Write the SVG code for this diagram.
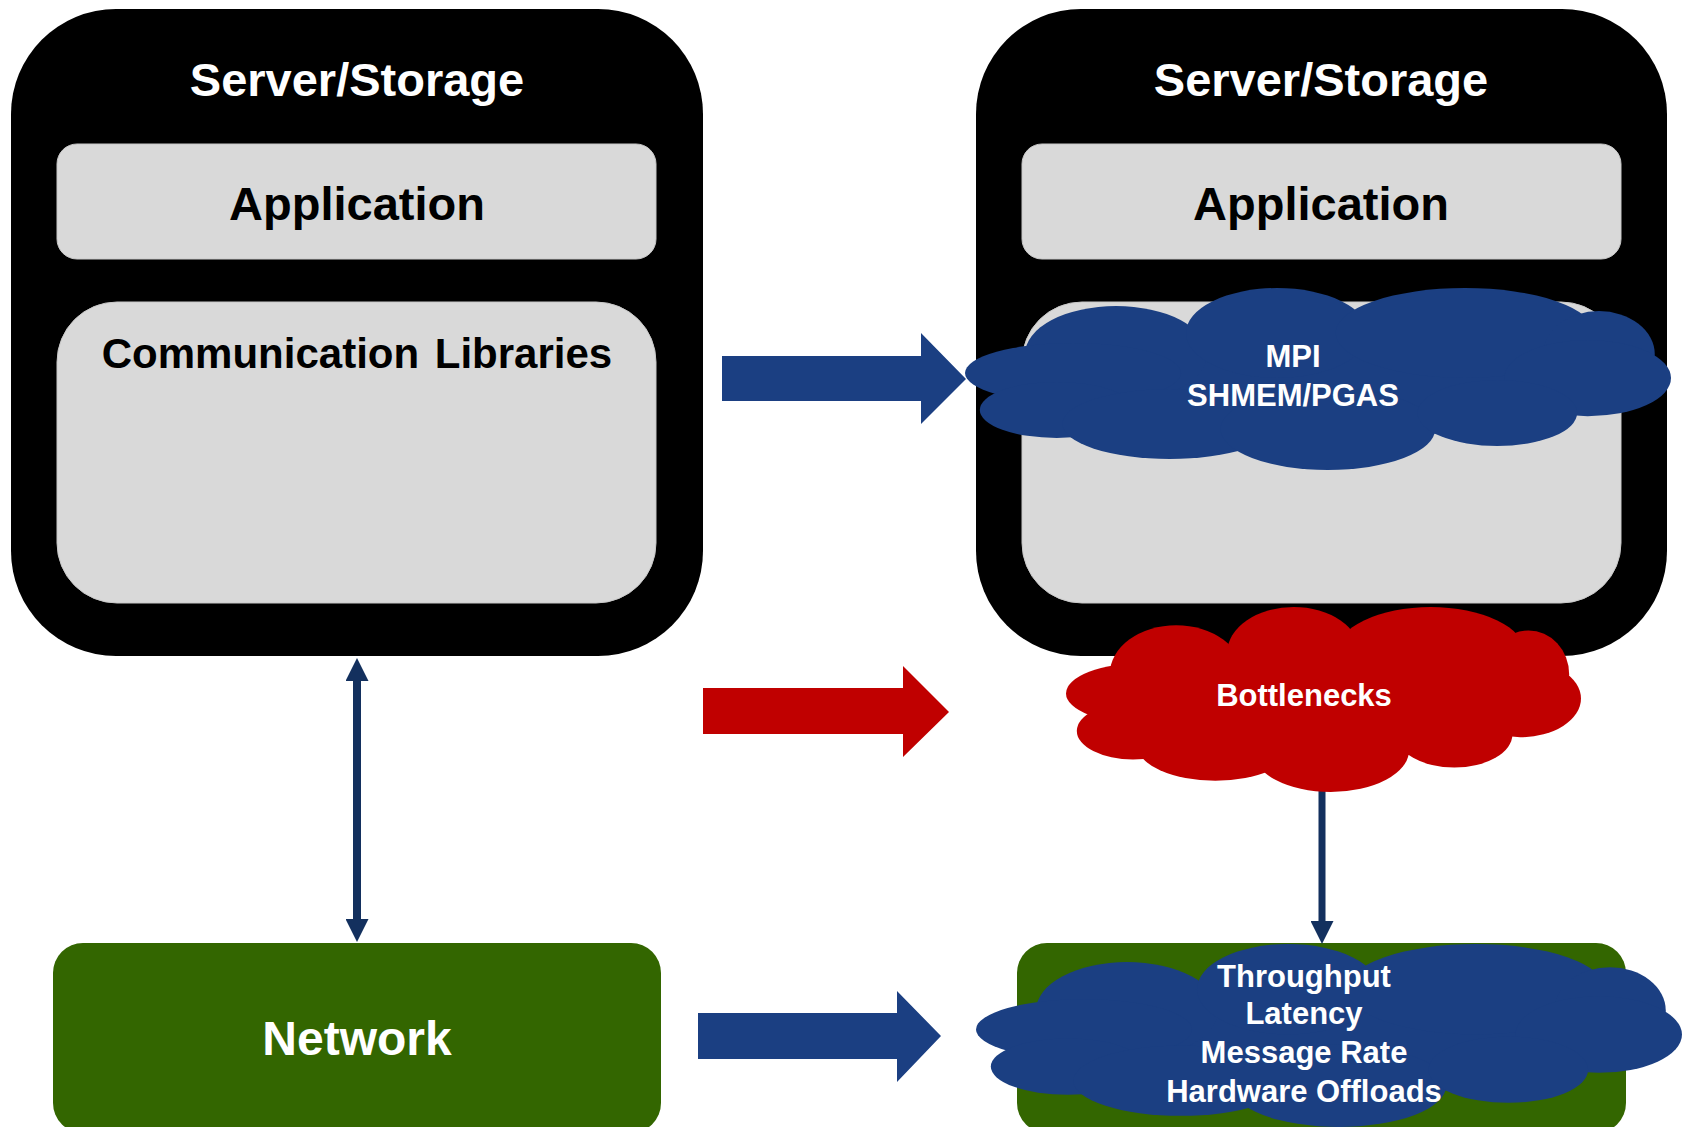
<svg xmlns="http://www.w3.org/2000/svg" xmlns:xlink="http://www.w3.org/1999/xlink" width="1683" height="1127" viewBox="0 0 1683 1127">
<style>
  text { font-family: "Liberation Sans", Arial, sans-serif; font-weight: bold; text-anchor: middle; }
  .title { font-size: 47px; fill: #FFFFFF; }
  .app { font-size: 47px; fill: #000000; }
  .lib { font-size: 42px; fill: #000000; word-spacing: 4px; }
  .cloudtxt { font-size: 31px; fill: #FFFFFF; }
  .net { font-size: 48px; fill: #FFFFFF; }
  .server { fill: #000000; }
  .grey { fill: #D9D9D9; stroke: #C8C8C8; stroke-width: 1; }
  .green { fill: #336600; }
  .blockblue { fill: #1B3F82; }
  .blockred { fill: #C00000; }
  .conn { stroke: #13305E; fill: none; }
</style>
<defs>
  <symbol id="cloud" viewBox="0 0 100 100" preserveAspectRatio="none">
    <ellipse cx="48.9" cy="50.5" rx="39.7" ry="33"/>
    <ellipse cx="21.4" cy="36.3" rx="12.9" ry="26.4"/>
    <ellipse cx="44.2" cy="24.7" rx="12.9" ry="24.7"/>
    <ellipse cx="70.8" cy="24.7" rx="18.3" ry="24.7"/>
    <ellipse cx="89.8" cy="36.3" rx="7.9" ry="23.6"/>
    <ellipse cx="88.2" cy="49.5" rx="11.8" ry="20.9"/>
    <ellipse cx="15.3" cy="46.7" rx="15.3" ry="16.5"/>
    <ellipse cx="13.0" cy="67.0" rx="10.9" ry="15.4"/>
    <ellipse cx="29.0" cy="74.7" rx="15.2" ry="19.2"/>
    <ellipse cx="51.4" cy="77.5" rx="15.2" ry="22.5"/>
    <ellipse cx="75.4" cy="68.7" rx="11.3" ry="18.1"/>
  </symbol>
  <marker id="head" viewBox="0 0 23 23" refX="11" refY="11.5" markerWidth="23" markerHeight="23" markerUnits="userSpaceOnUse" orient="auto-start-reverse">
    <path d="M0,0 L23,11.5 L0,23 Z" fill="#13305E"/>
  </marker>
</defs>

<rect width="1683" height="1127" fill="#FFFFFF"/>

<g id="server-left">
  <rect class="server" x="11" y="9" width="692" height="647" rx="105" ry="105"/>
  <text class="title" x="357" y="96">Server/Storage</text>
</g>
<g id="application-left">
  <rect class="grey" x="57" y="144" width="599" height="115" rx="20" ry="20"/>
  <text class="app" x="357" y="220">Application</text>
</g>
<g id="comm-libraries">
  <rect class="grey" x="57" y="302" width="599" height="301" rx="60" ry="60"/>
  <text class="lib" x="357" y="368">Communication Libraries</text>
</g>

<g id="server-right">
  <rect class="server" x="976" y="9" width="691" height="647" rx="105" ry="105"/>
  <text class="title" x="1321" y="96">Server/Storage</text>
</g>
<g id="application-right">
  <rect class="grey" x="1022" y="144" width="599" height="115" rx="20" ry="20"/>
  <text class="app" x="1321" y="220">Application</text>
</g>
<g id="libraries-right">
  <rect class="grey" x="1022" y="302" width="599" height="301" rx="60" ry="60"/>
</g>

<g id="network-left">
  <rect class="green" x="53" y="943" width="608" height="190" rx="30" ry="30"/>
  <text class="net" x="357" y="1055">Network</text>
</g>
<g id="network-right">
  <rect class="green" x="1017" y="943" width="609" height="190" rx="30" ry="30"/>
</g>

<g id="connectors">
  <polygon class="blockblue" points="722,356 921,356 921,333 966,379 921,424 921,401 722,401"/>
  <polygon class="blockred" points="703,688 903,688 903,666 949,712 903,757 903,734 703,734"/>
  <polygon class="blockblue" points="698,1013 897,1013 897,991 941,1036 897,1082 897,1059 698,1059"/>
  <line class="conn" x1="357" y1="670" x2="357" y2="930" stroke-width="8" marker-start="url(#head)" marker-end="url(#head)"/>
  <line class="conn" x1="1322" y1="785" x2="1322" y2="932" stroke-width="7" marker-end="url(#head)"/>
</g>

<g id="cloud-mpi">
  <use xlink:href="#cloud" x="965" y="288" width="706" height="182" fill="#1B3F82"/>
  <text class="cloudtxt" x="1293" y="367">MPI</text>
  <text class="cloudtxt" x="1293" y="406">SHMEM/PGAS</text>
</g>
<g id="cloud-bottlenecks">
  <use xlink:href="#cloud" x="1066" y="607" width="515" height="185" fill="#C00000"/>
  <text class="cloudtxt" x="1304" y="706">Bottlenecks</text>
</g>
<g id="cloud-metrics">
  <use xlink:href="#cloud" x="976" y="944" width="706" height="183" fill="#1B3F82"/>
  <text class="cloudtxt" x="1304" y="987">Throughput</text>
  <text class="cloudtxt" x="1304" y="1024">Latency</text>
  <text class="cloudtxt" x="1304" y="1063">Message Rate</text>
  <text class="cloudtxt" x="1304" y="1102">Hardware Offloads</text>
</g>
</svg>
